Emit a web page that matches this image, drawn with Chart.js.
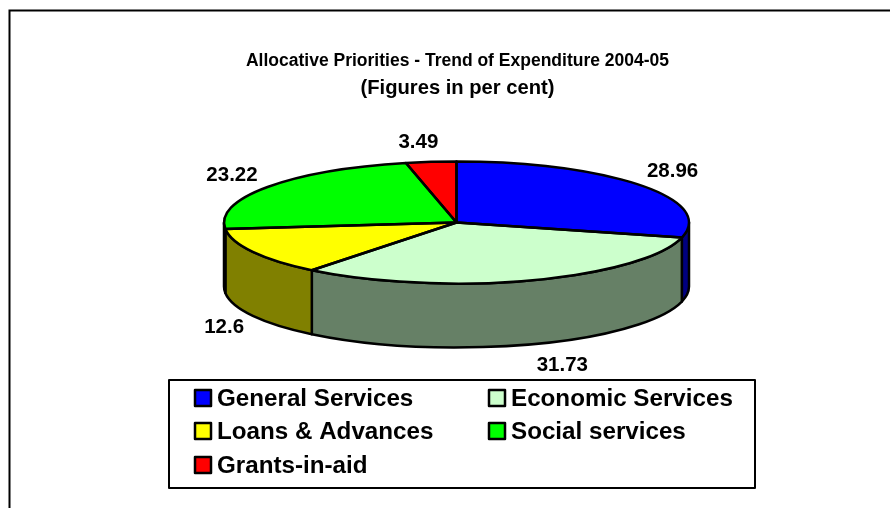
<!DOCTYPE html>
<html>
<head>
<meta charset="utf-8">
<title>Allocative Priorities</title>
<script src="https://cdn.jsdelivr.net/npm/chart.js@4/dist/chart.umd.min.js"></script>
<style>
    html, body { margin: 0; padding: 0; background: #fff; overflow: hidden; }
    canvas { display: block; }
</style>
</head>
<body>
<canvas id="pie" width="890" height="508"></canvas>
<script>
const categories = ['General Services', 'Economic Services', 'Loans & Advances', 'Social services', 'Grants-in-aid'];
const shares = [28.96, 31.73, 12.6, 23.22, 3.49];
const topColors = ['#0000ff', '#ccffcc', '#ffff00', '#00ff00', '#ff0000'];
const wallColors = ['#000080', '#668066', '#808000', '#008000', '#800000'];
const titleText = 'Allocative Priorities - Trend of Expenditure 2004-05';
const subtitleText = '(Figures in per cent)';

const FONT = '"Liberation Sans", Arial, sans-serif';

// Projected pie: the library draws a circle, this squashes it into an ellipse
const tilt = { cx: 456.5, cy: 222.5, rx: 232.5, ry: 61, depth: 64 };

// Small nudges for the value labels around the pie
const labelNudge = [[-1, 0], [18, 0], [8.5, 1], [-1, 1], [-8, 2.5]];

function drawFrame(ctx) {
    ctx.strokeStyle = '#000';
    ctx.lineWidth = 2;
    ctx.beginPath();
    ctx.moveTo(9.5, 508);
    ctx.lineTo(9.5, 10.5);
    ctx.lineTo(890, 10.5);
    ctx.stroke();
}

function drawWalls(ctx, arcs) {
    const { cx, cy, rx, ry, depth } = tilt;
    ctx.lineWidth = 2.5;
    ctx.strokeStyle = '#000';
    ctx.lineJoin = 'round';
    arcs.forEach((arc, i) => {
        // only the part of the slice between 3 o'clock and 9 o'clock faces us
        const a = Math.max(arc.startAngle, 0);
        const b = Math.min(arc.endAngle, Math.PI);
        if (b <= a) return;
        ctx.beginPath();
        ctx.ellipse(cx, cy, rx, ry, 0, a, b, false);
        ctx.ellipse(cx, cy + depth, rx, ry, 0, b, a, true);
        ctx.closePath();
        ctx.fillStyle = wallColors[i];
        ctx.fill();
        ctx.stroke();
    });
}

function strokeSlices(ctx, arcs) {
    const { cx, cy, rx, ry } = tilt;
    ctx.lineWidth = 2.5;
    ctx.strokeStyle = '#000';
    ctx.lineJoin = 'round';
    arcs.forEach(arc => {
        ctx.beginPath();
        ctx.moveTo(cx, cy);
        ctx.ellipse(cx, cy, rx, ry, 0, arc.startAngle, arc.endAngle, false);
        ctx.closePath();
        ctx.stroke();
    });
}

function drawValueLabels(ctx, arcs) {
    const { cx, cy, depth } = tilt;
    ctx.fillStyle = '#000';
    ctx.font = 'bold 20.5px ' + FONT;
    ctx.textAlign = 'center';
    ctx.textBaseline = 'middle';
    arcs.forEach((arc, i) => {
        const mid = (arc.startAngle + arc.endAngle) / 2;
        const front = Math.sin(mid) > 0 ? depth : 0;
        const x = cx + 275 * Math.cos(mid) + labelNudge[i][0];
        const y = cy + 83 * Math.sin(mid) + front + labelNudge[i][1];
        ctx.fillText(String(shares[i]), x, y);
    });
}

function drawLegend(ctx) {
    const box = { left: 169, top: 380, width: 586, height: 108 };
    const columns = [195, 489];
    const rows = [398, 431, 465];
    ctx.fillStyle = '#fff';
    ctx.fillRect(box.left, box.top, box.width, box.height);
    ctx.strokeStyle = '#000';
    ctx.lineWidth = 2;
    ctx.strokeRect(box.left, box.top, box.width, box.height);
    ctx.font = 'bold 24.2px ' + FONT;
    ctx.textAlign = 'left';
    ctx.textBaseline = 'middle';
    categories.forEach((name, i) => {
        const x = columns[i % 2];
        const y = rows[Math.floor(i / 2)];
        ctx.fillStyle = topColors[i];
        ctx.fillRect(x, y - 8, 16, 16);
        ctx.lineWidth = 2.5;
        ctx.strokeRect(x, y - 8, 16, 16);
        ctx.fillStyle = '#000';
        ctx.fillText(name, x + 22, y + 1);
    });
}

const pie3d = {
    id: 'pie3d',
    beforeDraw(chart) {
        drawFrame(chart.ctx);
    },
    beforeDatasetsDraw(chart) {
        const ctx = chart.ctx;
        const arcs = chart.getDatasetMeta(0).data;
        drawWalls(ctx, arcs);
        // squash what the library draws next into the top face
        const r = arcs[0].outerRadius;
        ctx.save();
        ctx.translate(tilt.cx, tilt.cy);
        ctx.scale(tilt.rx / r, tilt.ry / r);
        ctx.translate(-arcs[0].x, -arcs[0].y);
    },
    afterDatasetsDraw(chart) {
        const ctx = chart.ctx;
        const arcs = chart.getDatasetMeta(0).data;
        ctx.restore();
        strokeSlices(ctx, arcs);
        drawValueLabels(ctx, arcs);
        drawLegend(ctx);
    }
};

Chart.defaults.font.family = FONT;
Chart.defaults.color = '#000';

new Chart(document.getElementById('pie').getContext('2d'), {
    type: 'pie',
    data: {
        labels: categories,
        datasets: [{
            data: shares,
            backgroundColor: topColors,
            borderWidth: 0,
            clip: false
        }]
    },
    options: {
        responsive: false,
        animation: false,
        rotation: 0,
        layout: { padding: { left: 25 } },
        plugins: {
            legend: { display: false },
            tooltip: { enabled: false },
            title: {
                display: true,
                text: titleText,
                font: { size: 17.5, weight: 'bold' },
                padding: { top: 50.5, bottom: 0 }
            },
            subtitle: {
                display: true,
                text: subtitleText,
                font: { size: 20.2, weight: 'bold' },
                padding: { top: 4.5, bottom: 0 }
            }
        }
    },
    plugins: [pie3d]
});
</script>
</body>
</html>
